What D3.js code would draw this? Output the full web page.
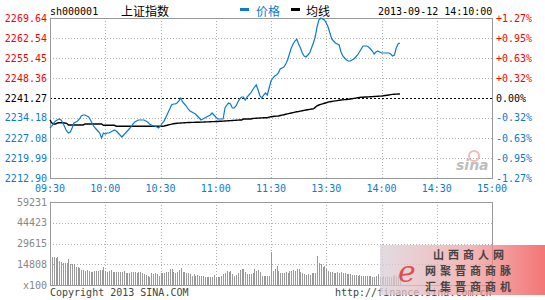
<!DOCTYPE html>
<html>
<head>
<meta charset="utf-8">
<script src="https://cdn.jsdelivr.net/npm/d3@7"></script>
<style>
  body { margin: 0; background: #fff; }
  svg { display: block; }
  text { font-family: "DejaVu Sans Mono", monospace; font-size: 10px; }
  .cjk { font-family: "Noto Sans CJK SC", sans-serif; font-size: 12px; }
</style>
</head>
<body>
<div id="chart"></div>
<script>
const width = 545;
const height = 300;

const code = 'sh000001';
const name = '上证指数';
const stamp = '2013-09-12 14:10:00';
const prevClose = 2241.27;

// price ticks (left) and percent ticks (right)
const priceTicks = [2269.64, 2262.54, 2255.45, 2248.36, 2241.27, 2234.18, 2227.08, 2219.99, 2212.90];
const pctTicks = ['+1.27%', '+0.95%', '+0.63%', '+0.32%', '0.00%', '-0.32%', '-0.63%', '-0.95%', '-1.27%'];
const volTicks = [59231, 44423, 29615, 14808];
const timeTicks = [0, 30, 60, 90, 120, 150, 180, 210, 240];
const timeLabels = ['09:30', '10:00', '10:30', '11:00', '11:30', '13:30', '14:00', '14:30', '15:00'];

// minute prices, 09:30 .. 14:10
const price = [
  2230.63, 2231.34, 2232.40, 2233.11, 2233.47, 2233.82, 2233.47, 2232.40, 2230.99, 2229.57,
  2228.86, 2229.21, 2230.63, 2232.40, 2232.76, 2233.11, 2233.82, 2234.89, 2235.24, 2235.24,
  2234.89, 2234.53, 2233.47, 2232.05, 2230.99, 2230.28, 2229.57, 2228.86, 2227.09, 2228.86,
  2228.50, 2228.86, 2228.86, 2229.21, 2229.57, 2229.92, 2229.57, 2228.86, 2228.15, 2227.44,
  2228.15, 2228.86, 2229.57, 2230.28, 2230.99, 2232.05, 2232.76, 2233.11, 2233.47, 2233.47,
  2233.47, 2233.47, 2233.11, 2232.76, 2232.05, 2231.70, 2231.34, 2231.34, 2230.99, 2230.63,
  2231.34, 2232.40, 2233.11, 2234.53, 2235.95, 2237.37, 2238.79, 2239.14, 2239.14, 2239.50,
  2240.21, 2241.27, 2239.85, 2239.14, 2238.43, 2237.37, 2236.66, 2236.31, 2235.95, 2235.60,
  2234.89, 2234.18, 2233.47, 2233.82, 2234.18, 2234.53, 2234.89, 2235.24, 2235.95, 2235.24,
  2234.53, 2233.82, 2233.82, 2233.82, 2233.82, 2237.72, 2238.79, 2239.50, 2239.14, 2237.72,
  2237.72, 2238.43, 2239.85, 2240.92, 2241.62, 2241.62, 2240.56, 2241.62, 2242.33, 2243.04,
  2244.11, 2245.17, 2245.88, 2244.11, 2241.98, 2241.27, 2242.33, 2243.04, 2242.33, 2244.82,
  2247.30, 2248.36, 2249.07, 2249.43, 2250.14, 2251.55, 2251.91, 2252.26, 2253.33, 2254.74,
  2256.87, 2259.00, 2260.42, 2261.48, 2262.19, 2260.42, 2259.00, 2257.23, 2256.16, 2255.81,
  2256.52, 2257.23, 2259.00, 2260.77, 2262.90, 2266.45, 2268.93, 2269.64, 2269.28, 2268.93,
  2267.86, 2266.45, 2264.32, 2262.19, 2261.48, 2260.77, 2260.42, 2260.06, 2257.58, 2256.16,
  2255.45, 2254.74, 2254.39, 2254.39, 2254.74, 2255.10, 2255.81, 2256.52, 2257.58, 2258.65,
  2259.71, 2259.71, 2259.71, 2259.35, 2258.65, 2257.94, 2256.87, 2257.58, 2257.94, 2257.58,
  2257.23, 2257.23, 2257.23, 2257.23, 2257.23, 2256.87, 2256.16, 2256.52, 2259.00, 2260.42,
  2260.77
];

// running average price
const avgPrice = [
  2233.47, 2232.40, 2232.05, 2232.05, 2232.40, 2232.51, 2232.51, 2232.51, 2232.40, 2232.30,
  2231.70, 2231.70, 2231.70, 2231.70, 2231.70, 2231.70, 2231.70, 2231.70, 2231.70, 2232.05,
  2232.05, 2232.05, 2232.05, 2232.05, 2232.05, 2232.05, 2232.05, 2232.05, 2232.05, 2231.59,
  2231.59, 2231.59, 2231.59, 2231.59, 2231.59, 2231.59, 2231.23, 2231.23, 2231.23, 2231.23,
  2231.23, 2231.23, 2231.23, 2231.23, 2231.23, 2231.23, 2231.23, 2231.23, 2231.23, 2231.23,
  2231.23, 2231.23, 2231.23, 2231.23, 2231.23, 2231.23, 2231.23, 2231.23, 2231.23, 2231.23,
  2231.23, 2231.23, 2231.34, 2231.50, 2231.70, 2231.85, 2232.00, 2232.15, 2232.25, 2232.30,
  2232.35, 2232.40, 2232.45, 2232.50, 2232.55, 2232.58, 2232.60, 2232.62, 2232.64, 2232.65,
  2232.65, 2232.68, 2232.70, 2232.72, 2232.76, 2232.80, 2232.82, 2232.85, 2232.88, 2232.90,
  2232.93, 2232.96, 2233.00, 2233.04, 2233.08, 2233.11, 2233.15, 2233.20, 2233.25, 2233.30,
  2233.35, 2233.40, 2233.44, 2233.47, 2233.47, 2233.82, 2233.82, 2233.82, 2233.82, 2233.82,
  2234.00, 2234.05, 2234.10, 2234.15, 2234.18, 2234.22, 2234.25, 2234.27, 2234.29, 2234.50,
  2234.60, 2234.70, 2234.80, 2234.85, 2234.90, 2235.05, 2235.20, 2235.35, 2235.50, 2235.65,
  2235.80, 2235.95, 2236.10, 2236.25, 2236.40, 2236.50, 2236.62, 2236.75, 2236.88, 2237.00,
  2237.12, 2237.25, 2237.37, 2237.40, 2237.95, 2238.50, 2238.79, 2239.00, 2239.20, 2239.40,
  2239.60, 2239.80, 2239.96, 2240.05, 2240.15, 2240.25, 2240.35, 2240.45, 2240.55, 2240.62,
  2240.70, 2240.76, 2240.81, 2240.90, 2241.00, 2241.12, 2241.24, 2241.35, 2241.45, 2241.52,
  2241.56, 2241.60, 2241.64, 2241.68, 2241.72, 2241.76, 2241.80, 2241.85, 2241.90, 2241.94,
  2241.98, 2242.05, 2242.15, 2242.25, 2242.35, 2242.45, 2242.55, 2242.62, 2242.66, 2242.69,
  2242.69
];

// minute volume (x100)
const volume = [
  20500, 19750, 20230, 19040, 19750, 17370, 16660, 15950, 15470, 15470,
  18560, 14990, 14760, 14760, 13090, 13090, 12380, 10710, 10710, 10230,
  10710, 10230, 9520, 9520, 10000, 10000, 10000, 10710, 10710, 12610,
  10230, 9520, 10000, 10710, 9520, 9520, 9520, 9520, 9520, 9520,
  10000, 8330, 8330, 8810, 9280, 9040, 9280, 8810, 9280, 9040,
  8330, 7620, 7140, 6430, 5950, 8330, 7620, 8810, 7620, 6430,
  8810, 8810, 8810, 9520, 9520, 11190, 11190, 9040, 8330, 9520,
  10710, 12380, 9520, 9040, 8330, 8330, 7620, 6430, 7620, 6430,
  7140, 6430, 6430, 6430, 5950, 5950, 5950, 5950, 5950, 7140,
  5950, 5950, 5950, 6430, 7620, 8810, 10230, 9520, 10230, 7620,
  6430, 7140, 8810, 10710, 11420, 11190, 9520, 7620, 7620, 7620,
  8810, 11420, 10230, 10710, 9520, 6430, 6430, 6430, 6430, 6430,
  23800, 10230, 11190, 13570, 10230, 8330, 8810, 8330, 9040, 8330,
  10000, 10230, 10710, 10230, 11190, 11190, 9520, 8810, 7620, 7140,
  7620, 7140, 8330, 8330, 8330, 20710, 15470, 14760, 13090, 13570,
  11190, 10230, 9520, 9520, 8810, 8330, 9040, 8330, 9040, 8330,
  8330, 7850, 7620, 7620, 7140, 7140, 7140, 6430, 7140, 6660,
  6430, 6660, 6660, 6430, 6660, 5950, 5950, 6430, 7620, 5950,
  5950, 6200, 5800, 6400, 6000, 5600, 6300, 7100, 6500, 6900,
  8200
];

const blue = '#0a7bd2';
const red = '#ff0000';
const gridColor = '#b0b0b0';
const frameColor = '#999';

const left = 50, right = 492;
const pTop = 18, pBottom = 178;
const vTop = 202, vBottom = 285;

const svg = d3.select('#chart').append('svg')
  .attr('width', width)
  .attr('height', height);

const x = d3.scaleLinear().domain([0, 240]).range([left, right]);
const y = d3.scaleLinear().domain([priceTicks[8], priceTicks[0]]).range([pBottom, pTop]);
const yv = d3.scaleLinear().domain([0, volTicks[0]]).range([vBottom, vTop]);

// ---- price panel grid
const pg = svg.append('g').attr('shape-rendering', 'crispEdges');
pg.selectAll('line.h').data(priceTicks.slice(1, 8)).enter().append('line')
  .attr('x1', left).attr('x2', right)
  .attr('y1', d => Math.round(y(d)) + 0.5).attr('y2', d => Math.round(y(d)) + 0.5)
  .attr('stroke', d => d === prevClose ? '#000' : gridColor)
  .attr('stroke-dasharray', d => d === prevClose ? '2,2' : '1,2');
pg.selectAll('line.v').data(timeTicks.slice(1, 8)).enter().append('line')
  .attr('x1', d => Math.round(x(d)) + 0.5).attr('x2', d => Math.round(x(d)) + 0.5)
  .attr('y1', pTop).attr('y2', pBottom)
  .attr('stroke', gridColor).attr('stroke-dasharray', '1,2');
pg.append('rect')
  .attr('x', left + 0.5).attr('y', pTop + 0.5)
  .attr('width', right - left).attr('height', pBottom - pTop)
  .attr('fill', 'none').attr('stroke', frameColor);

// ---- volume panel grid
const vg = svg.append('g').attr('shape-rendering', 'crispEdges');
vg.selectAll('line.h').data(volTicks.slice(1)).enter().append('line')
  .attr('x1', left).attr('x2', right)
  .attr('y1', d => Math.round(yv(d)) + 0.5).attr('y2', d => Math.round(yv(d)) + 0.5)
  .attr('stroke', gridColor).attr('stroke-dasharray', '1,2');
vg.selectAll('line.v').data(timeTicks.slice(1, 8)).enter().append('line')
  .attr('x1', d => Math.round(x(d)) + 0.5).attr('x2', d => Math.round(x(d)) + 0.5)
  .attr('y1', vTop).attr('y2', vBottom)
  .attr('stroke', gridColor).attr('stroke-dasharray', '1,2');

// volume bars
vg.selectAll('rect.bar').data(volume).enter().append('rect')
  .attr('x', (d, i) => Math.round(x(i)))
  .attr('y', d => Math.round(yv(d)))
  .attr('width', 1)
  .attr('height', d => vBottom - Math.round(yv(d)))
  .attr('fill', '#999');

vg.append('rect')
  .attr('x', left + 0.5).attr('y', vTop + 0.5)
  .attr('width', right - left).attr('height', vBottom - vTop)
  .attr('fill', 'none').attr('stroke', frameColor);

// ---- lines
svg.append('path')
  .datum(avgPrice)
  .attr('fill', 'none')
  .attr('stroke', '#000')
  .attr('stroke-width', 1.4)
  .attr('d', d3.line().x((d, i) => x(i)).y(d => y(d)));

svg.append('path')
  .datum(price)
  .attr('fill', 'none')
  .attr('stroke', blue)
  .attr('stroke-width', 1.2)
  .attr('d', d3.line().x((d, i) => x(i)).y(d => y(d)));

// ---- axis labels
const tickColor = (d, i) => i < 4 ? red : (i === 4 ? '#000' : blue);
svg.selectAll('text.lp').data(priceTicks).enter().append('text')
  .attr('x', 47).attr('y', d => y(d))
  .attr('dy', '0.35em')
  .attr('text-anchor', 'end')
  .attr('fill', tickColor)
  .text(d => d.toFixed(2));

svg.selectAll('text.rp').data(pctTicks).enter().append('text')
  .attr('x', 496).attr('y', (d, i) => y(priceTicks[i]))
  .attr('dy', '0.35em')
  .attr('fill', tickColor)
  .text(d => d);

svg.selectAll('text.t').data(timeTicks).enter().append('text')
  .attr('x', d => x(d)).attr('y', 192)
  .attr('text-anchor', 'middle')
  .attr('fill', blue)
  .text((d, i) => timeLabels[i]);

svg.selectAll('text.v').data(volTicks).enter().append('text')
  .attr('x', 47).attr('y', d => yv(d))
  .attr('dy', '0.35em')
  .attr('text-anchor', 'end')
  .attr('fill', '#888')
  .text(d => d);
svg.append('text')
  .attr('x', 47).attr('y', vBottom).attr('dy', '0.35em')
  .attr('text-anchor', 'end').attr('fill', '#888')
  .text('x100');

// ---- header
svg.append('text').attr('x', 50).attr('y', 15).attr('fill', '#000').text(code);
svg.append('text').attr('class', 'cjk').attr('x', 121).attr('y', 16).attr('fill', '#000').text(name);
svg.append('rect').attr('x', 240).attr('y', 8).attr('width', 9).attr('height', 3).attr('fill', blue);
svg.append('text').attr('class', 'cjk').attr('x', 256).attr('y', 16).attr('fill', blue).text('价格');
svg.append('rect').attr('x', 291).attr('y', 8).attr('width', 9).attr('height', 3).attr('fill', '#000');
svg.append('text').attr('class', 'cjk').attr('x', 306).attr('y', 16).attr('fill', '#000').text('均线');
svg.append('text').attr('x', 378).attr('y', 15).attr('fill', '#000').text(stamp);

// ---- footer
svg.append('text').attr('x', 50).attr('y', 296).attr('fill', '#444').text('Copyright 2013 SINA.COM');
svg.append('text').attr('x', 335).attr('y', 296).attr('fill', '#444').text('http://finance.sina.com.cn');

// sina mark
const mark = svg.append('g').attr('opacity', 0.55);
mark.append('circle').attr('cx', 474).attr('cy', 156).attr('r', 5).attr('fill', 'none')
  .attr('stroke', '#f08080').attr('stroke-width', 2);
mark.append('text').attr('x', 456).attr('y', 170)
  .style('font-family', 'DejaVu Sans').style('font-size', '14px')
  .style('font-style', 'italic').style('font-weight', 'bold')
  .attr('fill', '#888').text('sina');

// bottom-right watermark
const defs = svg.append('defs');
const grad = defs.append('linearGradient').attr('id', 'wm');
grad.append('stop').attr('offset', '0%').attr('stop-color', '#d8d0d8');
grad.append('stop').attr('offset', '55%').attr('stop-color', '#f0a0a0');
grad.append('stop').attr('offset', '100%').attr('stop-color', '#f04848');
const wm = svg.append('g');
wm.append('rect').attr('x', 380).attr('y', 245).attr('width', 165).attr('height', 50)
  .attr('fill', 'url(#wm)').attr('opacity', 0.75);
wm.append('text').attr('x', 398).attr('y', 282)
  .style('font-family', 'DejaVu Serif').style('font-size', '30px').style('font-style', 'italic')
  .attr('fill', '#e03030').attr('opacity', 0.8).text('e');
[['山西商人网', 433, 259], ['网聚晋商商脉', 425, 275], ['汇集晋商商机', 425, 291]].forEach(r => {
  wm.append('text').attr('class', 'cjk').attr('x', r[1]).attr('y', r[2])
    .style('font-size', '11px').style('font-weight', 'bold')
    .style('letter-spacing', '4px')
    .attr('fill', '#444').text(r[0]);
});
</script>
</body>
</html>
